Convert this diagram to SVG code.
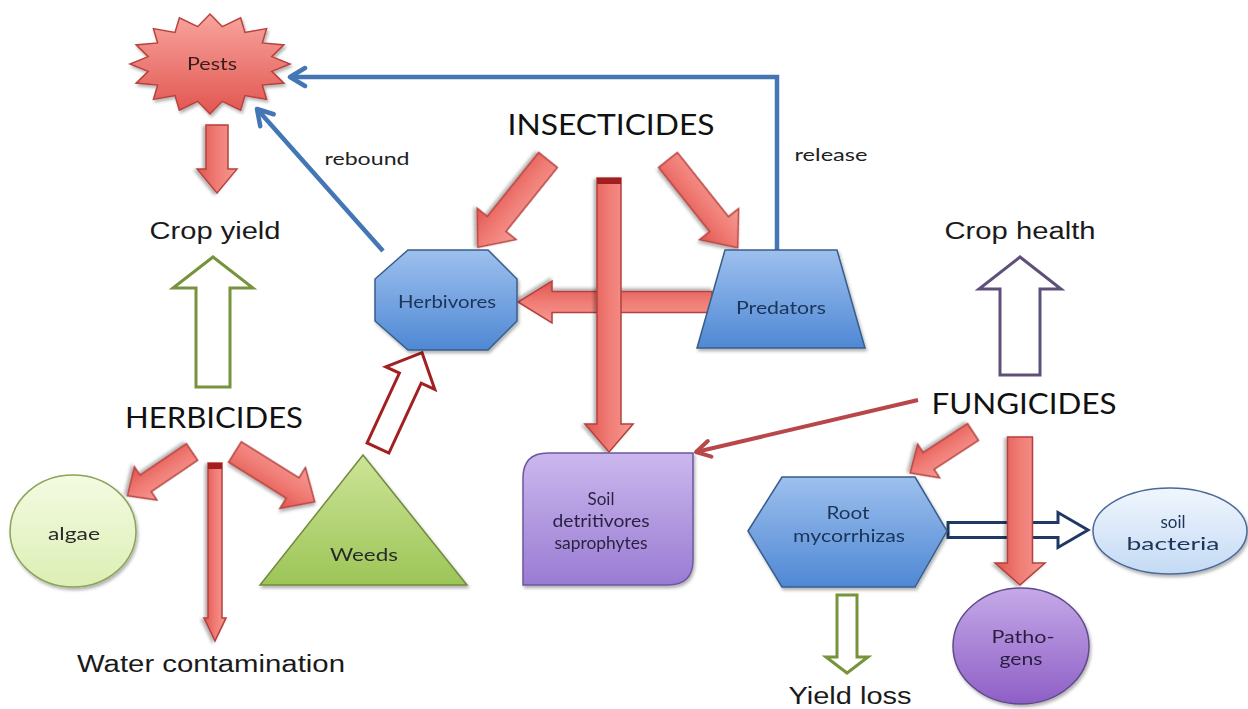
<svg xmlns="http://www.w3.org/2000/svg" width="1248" height="709" viewBox="0 0 1248 709">
<defs>
<linearGradient id="gRed" x1="0" y1="0" x2="0" y2="1"><stop offset="0" stop-color="#f59a93"/><stop offset="0.5" stop-color="#f07c75"/><stop offset="1" stop-color="#e0554f"/></linearGradient>
<linearGradient id="gPest" x1="0" y1="0" x2="0" y2="1"><stop offset="0" stop-color="#f7a49d"/><stop offset="1" stop-color="#e25650"/></linearGradient>
<linearGradient id="gBlue" x1="0" y1="0" x2="0" y2="1"><stop offset="0" stop-color="#9dc0ee"/><stop offset="1" stop-color="#4f88d4"/></linearGradient>
<linearGradient id="gPurp" x1="0" y1="0" x2="0" y2="1"><stop offset="0" stop-color="#cbb8ee"/><stop offset="1" stop-color="#9a7bd3"/></linearGradient>
<linearGradient id="gPath" x1="0" y1="0" x2="0" y2="1"><stop offset="0" stop-color="#c5a9e8"/><stop offset="1" stop-color="#8e5fc6"/></linearGradient>
<linearGradient id="gWeed" x1="0" y1="0" x2="0" y2="1"><stop offset="0" stop-color="#cde497"/><stop offset="1" stop-color="#9cc557"/></linearGradient>
<linearGradient id="gAlg" x1="0" y1="0" x2="0" y2="1"><stop offset="0" stop-color="#f4fbe2"/><stop offset="1" stop-color="#dcefb4"/></linearGradient>
<linearGradient id="gBact" x1="0" y1="0" x2="0" y2="1"><stop offset="0" stop-color="#f0f6fe"/><stop offset="1" stop-color="#c4daf4"/></linearGradient>
<filter id="sh" x="-10%" y="-10%" width="130%" height="130%"><feDropShadow dx="1.5" dy="2.5" stdDeviation="1.5" flood-color="#000" flood-opacity="0.3"/></filter>
<marker id="mBlue" markerUnits="userSpaceOnUse" markerWidth="24" markerHeight="24" viewBox="0 0 24 24" refX="19" refY="12" orient="auto"><path d="M4,3 L19,12 L4,21" fill="none" stroke="#4475b4" stroke-width="4.5" stroke-linecap="round" stroke-linejoin="round"/></marker>
<marker id="mRed" markerUnits="userSpaceOnUse" markerWidth="24" markerHeight="24" viewBox="0 0 24 24" refX="19" refY="12" orient="auto"><path d="M5,4 L19,12 L5,20" fill="none" stroke="#b8474a" stroke-width="4" stroke-linecap="round" stroke-linejoin="round"/></marker>
<style>
.ra{fill:url(#gRed);stroke:#b5403c;stroke-width:1.5;filter:url(#sh)}
.cap{fill:#a31f1f}
.hol{fill:#fff;stroke-width:3}
.bl{fill:none;stroke:#4475b4;stroke-width:4.5}
.cal{font-family:Lato,"Open Sans","Liberation Sans",sans-serif}
.ari{font-family:"Liberation Sans",Arial,sans-serif;fill:#1a1a1a}
.big{font-size:29px;fill:#111}
.mid{font-size:23px}
.nt{font-size:17px;text-anchor:middle}
.node{filter:url(#sh)}
</style>
</defs>
<g id="connectors">
<polyline class="bl" points="777,250 777,77 290,77" marker-end="url(#mBlue)"/>
<line class="bl" x1="383" y1="251" x2="257" y2="109" marker-end="url(#mBlue)"/>
<line x1="918" y1="400" x2="696" y2="452" stroke="#b8474a" stroke-width="4" marker-end="url(#mRed)"/>
<polygon class="ra" points="0,-11 44,-11 44,-20 68,0 44,20 44,11 0,11" transform="translate(217,125) rotate(90)"/>
<polygon class="ra" points="0,-12 82,-12 82,-25 112,0 82,25 82,12 0,12" transform="translate(548,160) rotate(128.8)"/>
<polygon class="ra" points="0,-12 82,-12 82,-25 112,0 82,25 82,12 0,12" transform="translate(668,160) rotate(51.5)"/>
<polygon class="ra" points="0,-10.5 160,-10.5 160,-21 194,0 160,21 160,10.5 0,10.5" transform="translate(712,302) rotate(180)"/>
<g transform="translate(609,178) rotate(90)"><polygon class="ra" points="0,-12 246,-12 246,-24 274,0 246,24 246,12 0,12"/><rect class="cap" x="0" y="-12" width="6" height="24"/></g>
<polygon class="ra" points="0,-10 56,-10 56,-20 78,0 56,20 56,10 0,10" transform="translate(192,452) rotate(145.9)"/>
<polygon class="ra" points="0,-12 68,-12 68,-24 94,0 68,24 68,12 0,12" transform="translate(235,452) rotate(32)"/>
<g transform="translate(215,463) rotate(90)"><polygon class="ra" points="0,-7 155,-7 155,-11 178,0 155,11 155,7 0,7"/><rect class="cap" x="0" y="-7" width="6" height="14"/></g>
<polygon class="ra" points="0,-10 53,-10 53,-20 75,0 53,20 53,10 0,10" transform="translate(973,432) rotate(146.9)"/>
<polygon class="hol" stroke="#1f3864" points="0,-7.5 110,-7.5 110,-17.5 140,0 110,17.5 110,7.5 0,7.5" transform="translate(948,530)"/>
<polygon class="ra" points="0,-12.5 126,-12.5 126,-25 148,0 126,25 126,12.5 0,12.5" transform="translate(1020,437) rotate(90)"/>
<polygon class="hol" stroke="#77933c" points="0,-17 99,-17 99,-40 130,0 99,40 99,17 0,17" transform="translate(213,387) rotate(-90)"/>
<polygon class="hol" stroke="#5f5079" points="0,-20 86,-20 86,-41 118,0 86,41 86,20 0,20" transform="translate(1020,375) rotate(-90)"/>
<polygon class="hol" stroke="#77933c" points="0,-10 62,-10 62,-21 78,0 62,21 62,10 0,10" transform="translate(847,595) rotate(90)"/>
<polygon class="hol" stroke="#a32020" points="0,-12 77,-12 77,-27 105,0 77,27 77,12 0,12" transform="translate(378,448) rotate(-65.2)"/>
<text class="cal" x="367" y="165" font-size="17" fill="#222" text-anchor="middle" textLength="85" lengthAdjust="spacingAndGlyphs">rebound</text>
<text class="cal" x="831" y="161" font-size="17" fill="#222" text-anchor="middle" textLength="73" lengthAdjust="spacingAndGlyphs">release</text>
</g>
<g id="pests" class="node">
<polygon fill="url(#gPest)" stroke="#b8413e" stroke-width="1.5" points="290,64 271.8,71.4 283.9,83.1 262.4,85.1 266.6,99.4 245,95.6 240.6,110.2 222.3,101.3 210,114 197.7,101.3 179.4,110.2 175,95.6 153.4,99.4 157.6,85.1 136.1,83.1 148.2,71.4 130,64 148.2,56.6 136.1,44.9 157.6,42.9 153.4,28.6 175,32.4 179.4,17.8 197.7,26.7 210,14 222.3,26.7 240.6,17.8 245,32.4 266.6,28.6 262.4,42.9 283.9,44.9 271.8,56.6"/>
<text class="cal nt" x="212" y="70" fill="#3a1d1d" textLength="50" lengthAdjust="spacingAndGlyphs">Pests</text>
</g>
<g id="crop-yield"><text class="ari mid" x="215" y="239" text-anchor="middle" textLength="131" lengthAdjust="spacingAndGlyphs">Crop yield</text></g>
<g id="insecticides"><text class="cal big" x="611" y="135" text-anchor="middle" textLength="207" lengthAdjust="spacingAndGlyphs">INSECTICIDES</text></g>
<g id="herbicides"><text class="cal big" x="214" y="428" text-anchor="middle" textLength="178" lengthAdjust="spacingAndGlyphs">HERBICIDES</text></g>
<g id="fungicides"><text class="cal big" x="1024" y="414" text-anchor="middle" textLength="185" lengthAdjust="spacingAndGlyphs">FUNGICIDES</text></g>
<g id="crop-health"><text class="ari mid" x="1020" y="239" text-anchor="middle" textLength="151" lengthAdjust="spacingAndGlyphs">Crop health</text></g>
<g id="water-contamination"><text class="ari mid" x="211" y="672" text-anchor="middle" textLength="268" lengthAdjust="spacingAndGlyphs">Water contamination</text></g>
<g id="yield-loss"><text class="ari mid" x="850" y="704" text-anchor="middle" textLength="123" lengthAdjust="spacingAndGlyphs">Yield loss</text></g>
<g id="herbivores" class="node">
<polygon fill="url(#gBlue)" stroke="#385d8a" stroke-width="1.5" points="408,250 488,250 517,279 517,321 488,350 408,350 375,321 375,279"/>
<text class="cal nt" x="447" y="308" fill="#1a3458" textLength="98" lengthAdjust="spacingAndGlyphs">Herbivores</text>
</g>
<g id="predators" class="node">
<polygon fill="url(#gBlue)" stroke="#385d8a" stroke-width="1.5" points="725,250 837,250 865,348 697,348"/>
<text class="cal nt" x="781" y="314" fill="#1a3458" textLength="90" lengthAdjust="spacingAndGlyphs">Predators</text>
</g>
<g id="soil-detritivores" class="node">
<path d="M548,453 L693,453 L693,560 Q693,585 668,585 L523,585 L523,478 Q523,453 548,453 Z" fill="url(#gPurp)" stroke="#6b58a0" stroke-width="1.5"/>
<text class="cal nt" x="601" y="505" fill="#2a2440" font-size="18">Soil</text>
<text class="cal nt" x="601" y="527" fill="#2a2440" font-size="18" textLength="97" lengthAdjust="spacingAndGlyphs">detritivores</text>
<text class="cal nt" x="601" y="549" fill="#2a2440" font-size="18" textLength="93" lengthAdjust="spacingAndGlyphs">saprophytes</text>
</g>
<g id="algae" class="node">
<ellipse cx="73" cy="531" rx="63" ry="56" fill="url(#gAlg)" stroke="#8aa458" stroke-width="1.5"/>
<text class="cal nt" x="74" y="540" fill="#2a2a2a" textLength="52" lengthAdjust="spacingAndGlyphs">algae</text>
</g>
<g id="weeds" class="node">
<polygon points="363,455 467,585 260,585" fill="url(#gWeed)" stroke="#71893f" stroke-width="1.5"/>
<text class="cal nt" x="364" y="561" fill="#2a2a2a" textLength="68" lengthAdjust="spacingAndGlyphs">Weeds</text>
</g>
<g id="root-mycorrhizas" class="node">
<polygon points="748,531 782,477 915,477 947,531 915,587 782,587" fill="url(#gBlue)" stroke="#385d8a" stroke-width="1.5"/>
<text class="cal nt" x="848" y="519" fill="#1a3458" textLength="43" lengthAdjust="spacingAndGlyphs">Root</text>
<text class="cal nt" x="849" y="542" fill="#1a3458" textLength="112" lengthAdjust="spacingAndGlyphs">mycorrhizas</text>
</g>
<g id="soil-bacteria" class="node">
<ellipse cx="1170" cy="531" rx="77" ry="43" fill="url(#gBact)" stroke="#4a6a98" stroke-width="1.5"/>
<text class="cal nt" x="1173" y="528" fill="#1a3458">soil</text>
<text class="cal nt" x="1173" y="550" fill="#1a3458" textLength="93" lengthAdjust="spacingAndGlyphs">bacteria</text>
</g>
<g id="pathogens" class="node">
<ellipse cx="1021" cy="646" rx="68" ry="58" fill="url(#gPath)" stroke="#5f4a8b" stroke-width="1.5"/>
<text class="cal nt" x="1023" y="643" fill="#2a1f40" textLength="63" lengthAdjust="spacingAndGlyphs">Patho-</text>
<text class="cal nt" x="1021" y="665" fill="#2a1f40" textLength="43" lengthAdjust="spacingAndGlyphs">gens</text>
</g>
</svg>
